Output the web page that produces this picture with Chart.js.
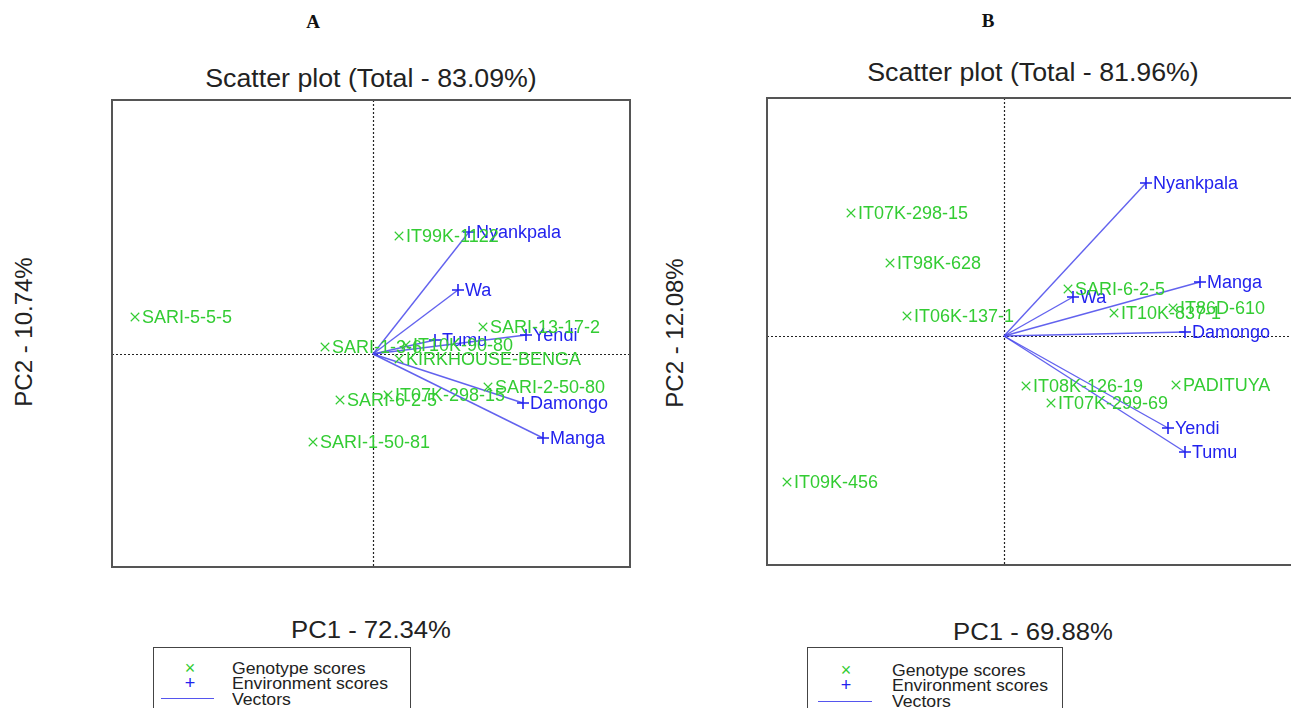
<!DOCTYPE html>
<html>
<head>
<meta charset="utf-8">
<script src="https://cdn.jsdelivr.net/npm/chart.js@4"></script>
<style>
    body { margin: 0; background: #fff; }
    #page { position: relative; width: 1291px; height: 708px; overflow: hidden; background: #fff; font-family: "Liberation Sans", Arial, sans-serif; color: #222; }
    .abs { position: absolute; white-space: nowrap; }
    .center { transform: translate(-50%, -50%); }
    .wide { transform: translate(-50%, -50%) scaleX(1.07); }
    .panel { font-family: "Liberation Serif", "Times New Roman", serif; font-weight: bold; font-size: 19px; color: #111; }
    .title { font-size: 25px; }
    .axis { font-size: 24px; }
    .rot { transform: translate(-50%, -50%) rotate(-90deg); }
    .legend { border: 1.5px solid #444; border-bottom: none; background: #fff; height: 70px; }
    .legend .row { position: absolute; left: 78px; font-size: 16.5px; line-height: 16px; color: #222; transform: scaleX(1.07); transform-origin: left center; }
    .legend .sym { position: absolute; width: 20px; text-align: center; font-size: 18px; line-height: 16px; }
    .legend .vec { position: absolute; height: 0; border-top: 1.5px solid #5555ee; }
    canvas { position: absolute; }
</style>
</head>
<body>
<div id="page">
    <div class="abs center panel" style="left:313px; top:22px;">A</div>
    <div class="abs center panel" style="left:988px; top:21px;">B</div>

    <div class="abs wide title" style="left:371px; top:78px;">Scatter plot (Total - 83.09%)</div>
    <div class="abs wide title" style="left:1033px; top:72px;">Scatter plot (Total - 81.96%)</div>

    <div class="abs axis rot" style="left:24px; top:332px;">PC2 - 10.74%</div>
    <div class="abs axis rot" style="left:675px; top:333px;">PC2 - 12.08%</div>

    <div class="abs wide axis" style="left:371px; top:630px;">PC1 - 72.34%</div>
    <div class="abs wide axis" style="left:1033px; top:632px;">PC1 - 69.88%</div>

    <canvas id="chartA" width="522" height="471" style="left:110px; top:98px;"></canvas>
    <canvas id="chartB" width="534" height="471" style="left:765px; top:96px;"></canvas>

    <div class="abs legend" style="left:153px; top:647px; width:256px;">
        <div class="sym" style="left:26px; top:12px; color:#33cc33;">×</div>
        <div class="sym" style="left:26px; top:27px; color:#2222ee;">+</div>
        <div class="vec" style="left:7px; top:50px; width:53px;"></div>
        <div class="row" style="top:12px;">Genotype scores</div>
        <div class="row" style="top:27px;">Environment scores</div>
        <div class="row" style="top:43px;">Vectors</div>
    </div>
    <div class="abs legend" style="left:807px; top:647px; width:254px;">
        <div class="sym" style="left:28px; top:14px; color:#33cc33;">×</div>
        <div class="sym" style="left:28px; top:29px; color:#2222ee;">+</div>
        <div class="vec" style="left:10px; top:53px; width:54px;"></div>
        <div class="row" style="left:84px; top:14px;">Genotype scores</div>
        <div class="row" style="left:84px; top:29px;">Environment scores</div>
        <div class="row" style="left:84px; top:45px;">Vectors</div>
    </div>
</div>

<script>
// ---- Panel A data (PC1, PC2 scores) ----
const genoNamesA = ["IT99K-1122", "SARI-5-5-5", "SARI-13-17-2", "SARI-1-3-6", "IT10K-90-80", "KIRKHOUSE-BENGA", "SARI-2-50-80", "IT07K-298-15", "SARI-6-2-5", "SARI-1-50-81"];
const genoPc1A = [0.26, -2.38, 1.10, -0.48, 0.33, 0.26, 1.15, 0.15, -0.33, -0.60];
const genoPc2A = [1.18, 0.37, 0.27, 0.07, 0.09, -0.05, -0.33, -0.41, -0.46, -0.88];
const envNamesA = ["Nyankpala", "Wa", "Yendi", "Tumu", "Damongo", "Manga"];
const envPc1A = [0.96, 0.85, 1.53, 0.62, 1.50, 1.70];
const envPc2A = [1.22, 0.64, 0.19, 0.14, -0.49, -0.84];

// ---- Panel B data ----
const genoNamesB = ["IT07K-298-15", "IT98K-628", "SARI-6-2-5", "IT06K-137-1", "IT10K-837-1", "IT86D-610", "IT08K-126-19", "PADITUYA", "IT07K-299-69", "IT09K-456"];
const genoPc1B = [-1.53, -1.14, 0.64, -0.97, 1.10, 1.69, 0.22, 1.72, 0.47, -2.17];
const genoPc2B = [1.23, 0.73, 0.47, 0.20, 0.23, 0.28, -0.50, -0.49, -0.67, -1.46];
const envNamesB = ["Nyankpala", "Wa", "Manga", "Damongo", "Yendi", "Tumu"];
const envPc1B = [1.42, 0.69, 1.96, 1.81, 1.64, 1.81];
const envPc2B = [1.53, 0.39, 0.54, 0.04, -0.92, -1.16];

// axis ranges of the plot boxes
const rangeA = { xMin: -2.61, xMax: 2.57, yMin: -2.13, yMax: 2.54 };
const rangeB = { xMin: -2.37, xMax: 2.93, yMin: -2.29, yMax: 2.38 };

const GREEN = "#33cc33";
const BLUE = "#2222ee";
const VECTOR = "rgba(70, 70, 235, 0.85)";

// dotted lines through the origin + box around the plot area
const framePlugin = {
    id: "frame",
    beforeDatasetsDraw(chart) {
        const { ctx, chartArea: a, scales } = chart;
        const x0 = Math.round(scales.x.getPixelForValue(0)) + 0.5;
        const y0 = Math.round(scales.y.getPixelForValue(0)) + 0.5;
        ctx.save();
        ctx.strokeStyle = "#222";
        ctx.lineWidth = 1.2;
        ctx.setLineDash([2, 2]);
        ctx.beginPath();
        ctx.moveTo(x0, a.top);
        ctx.lineTo(x0, a.bottom);
        ctx.moveTo(a.left, y0);
        ctx.lineTo(a.right, y0);
        ctx.stroke();
        ctx.restore();
    },
    afterDraw(chart) {
        const { ctx, chartArea: a } = chart;
        ctx.save();
        ctx.strokeStyle = "#555";
        ctx.lineWidth = 2;
        ctx.strokeRect(a.left, a.top, a.right - a.left, a.bottom - a.top);
        ctx.restore();
    }
};

// text next to every genotype / environment mark
const labelPlugin = {
    id: "pointLabels",
    afterDatasetsDraw(chart) {
        const ctx = chart.ctx;
        ctx.save();
        ctx.font = "18px 'Liberation Sans', Arial, sans-serif";
        ctx.textBaseline = "middle";
        ctx.textAlign = "left";
        chart.data.datasets.forEach((ds, i) => {
            if (!ds.names) return;
            const meta = chart.getDatasetMeta(i);
            ctx.fillStyle = ds.borderColor;
            meta.data.forEach((pt, j) => {
                ctx.fillText(ds.names[j], pt.x + 7, pt.y + 1);
            });
        });
        ctx.restore();
    }
};

function makeChart(id, genoNames, genoX, genoY, envNames, envX, envY, range) {
    const datasets = [];

    datasets.push({
        label: "Environment scores",
        names: envNames,
        data: envX.map((x, i) => ({ x: x, y: envY[i] })),
        pointStyle: "cross",
        pointRadius: 6,
        borderColor: BLUE,
        backgroundColor: BLUE,
        pointBorderWidth: 1.6,
        showLine: false
    });

    datasets.push({
        label: "Genotype scores",
        names: genoNames,
        data: genoX.map((x, i) => ({ x: x, y: genoY[i] })),
        pointStyle: "crossRot",
        pointRadius: 6,
        borderColor: GREEN,
        backgroundColor: GREEN,
        pointBorderWidth: 1.1,
        showLine: false
    });

    // one vector per environment, from the origin
    envNames.forEach((name, i) => {
        datasets.push({
            label: "Vector " + name,
            data: [{ x: 0, y: 0 }, { x: envX[i], y: envY[i] }],
            showLine: true,
            borderColor: VECTOR,
            borderWidth: 1.4,
            pointRadius: 0,
            fill: false
        });
    });

    return new Chart(document.getElementById(id), {
        type: "scatter",
        data: { datasets: datasets },
        options: {
            responsive: false,
            animation: false,
            layout: { padding: 2, autoPadding: false },
            plugins: {
                legend: { display: false },
                tooltip: { enabled: false }
            },
            scales: {
                x: { type: "linear", display: false, min: range.xMin, max: range.xMax },
                y: { type: "linear", display: false, min: range.yMin, max: range.yMax }
            }
        },
        plugins: [framePlugin, labelPlugin]
    });
}

makeChart("chartA", genoNamesA, genoPc1A, genoPc2A, envNamesA, envPc1A, envPc2A, rangeA);
makeChart("chartB", genoNamesB, genoPc1B, genoPc2B, envNamesB, envPc1B, envPc2B, rangeB);
</script>
</body>
</html>
